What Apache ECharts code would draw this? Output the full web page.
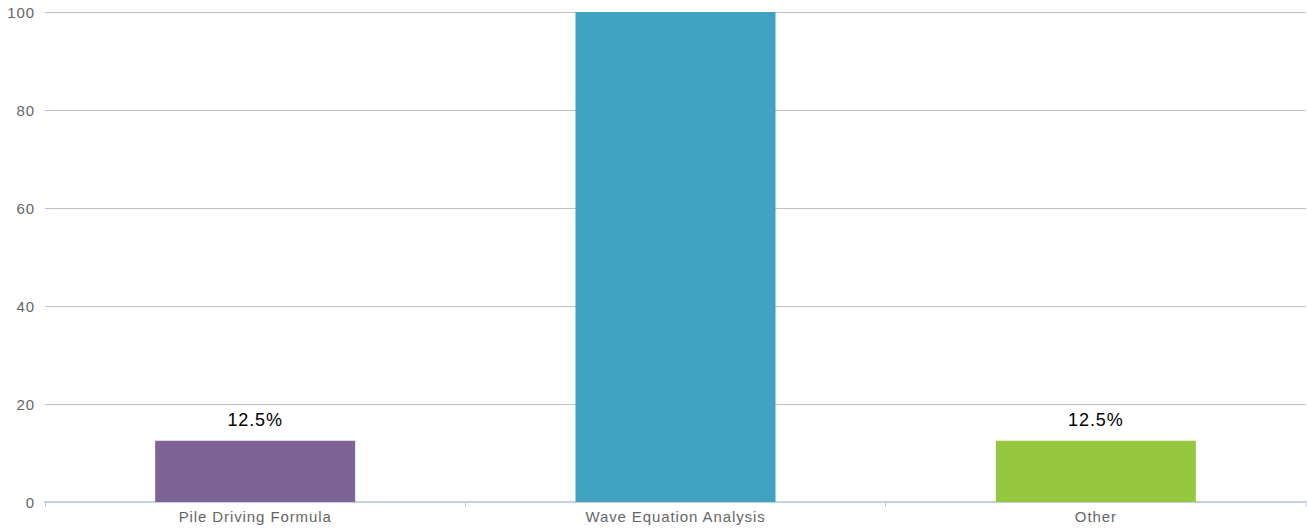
<!DOCTYPE html>
<html>
<head>
<meta charset="utf-8">
<script src="https://cdn.jsdelivr.net/npm/echarts@6/dist/echarts.min.js"></script>
<style>
  html, body { margin: 0; padding: 0; background: #fff; }
  #main { width: 1307px; height: 529px; }
  /* 字距稍宽 */
  #main svg text { letter-spacing: 0.9px; }
</style>
</head>
<body>
<div id="main"></div>
<script>
  // 数据
  var categories = ['Pile Driving Formula', 'Wave Equation Analysis', 'Other'];
  var values = [12.5, 100, 12.5];
  var colors = ['#7f6396', '#40a2c1', '#95c83e'];
  var yTicks = [0, 20, 40, 60, 80, 100];

  var chart = echarts.init(document.getElementById('main'), null, { renderer: 'svg' });

  var barData = values.map(function(v, i){
    return {
      value: v
      ,itemStyle: { color: colors[i] }
      ,label: { show: v < 100 }
    };
  });

  chart.setOption({
    animation: false
    ,textStyle: { fontFamily: 'Liberation Sans, Arial, sans-serif' }
    ,grid: { left: 45, right: 1, top: 12, bottom: 27, containLabel: false }
    ,xAxis: {
      type: 'category'
      ,data: categories
      ,axisLine: { lineStyle: { color: '#c3d1e0', width: 2 } }
      ,axisTick: { show: true, length: 5, lineStyle: { color: '#c3d1e0' } }
      ,axisLabel: { color: '#666', fontSize: 15, margin: 7 }
    }
    ,yAxis: {
      type: 'value'
      ,min: yTicks[0]
      ,max: yTicks[yTicks.length - 1]
      ,interval: 20
      ,axisLine: { show: false }
      ,axisTick: { show: false }
      ,axisLabel: { color: '#666', fontSize: 15, margin: 10 }
      ,splitLine: { lineStyle: { color: '#c0c0c0', width: 1 } }
    }
    ,series: [{
      type: 'bar'
      ,data: barData
      ,barWidth: 200
      ,label: {
        position: 'top'
        ,distance: 12
        ,color: '#000'
        ,fontSize: 18
        ,formatter: function(p){ return p.value + '%'; }
      }
    }]
  });
</script>
</body>
</html>
